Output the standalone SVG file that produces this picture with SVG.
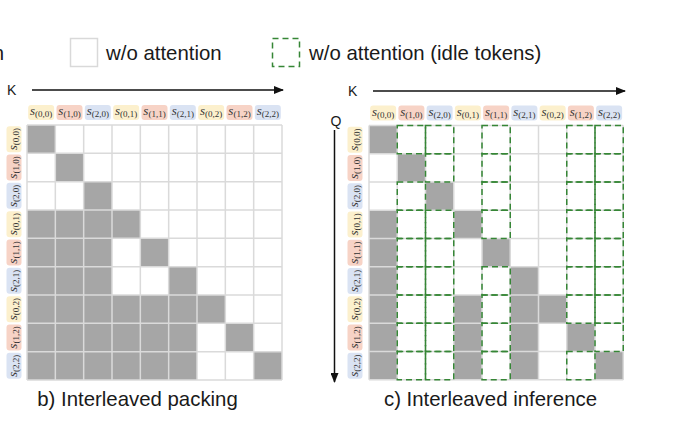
<svg xmlns="http://www.w3.org/2000/svg" xmlns:xlink="http://www.w3.org/1999/xlink" width="680" height="430" viewBox="0 0 680 430">
<style>
.t{font-family:"Liberation Sans",Arial,sans-serif;fill:#1a1a1a}
.leg{font-size:20.4px}
.ax{font-size:14px}
.lbl{font-family:"Liberation Serif","DejaVu Serif",serif;font-size:13px;fill:#333}
.sub{font-size:9px;font-style:normal}
.Y{fill:#fcf0cd}.R{fill:#f7d3c6}.B{fill:#dae3f3}
.cellbg{fill:#fff}
.gray{fill:#a6a6a6}
.grid{fill:none;stroke:#dadada;stroke-width:1.5}
.idle{fill:none;stroke:#368636;stroke-width:1.5;stroke-dasharray:6 4}
.arr{stroke:#111;stroke-width:1.5;fill:none}
</style>
<defs>
<marker id="ah" markerWidth="10" markerHeight="8" refX="9" refY="4" orient="auto" markerUnits="userSpaceOnUse">
<path d="M0,0 L10,4 L0,8 Z" fill="#111"/>
</marker>
<g id="L00"><rect x="-13" y="-7.5" width="26" height="15" rx="3" class="Y"/><text class="lbl" text-anchor="middle" y="2.5"><tspan font-style="italic">s</tspan><tspan class="sub" dy="2">(0,0)</tspan></text></g>
<g id="L10"><rect x="-13" y="-7.5" width="26" height="15" rx="3" class="R"/><text class="lbl" text-anchor="middle" y="2.5"><tspan font-style="italic">s</tspan><tspan class="sub" dy="2">(1,0)</tspan></text></g>
<g id="L20"><rect x="-13" y="-7.5" width="26" height="15" rx="3" class="B"/><text class="lbl" text-anchor="middle" y="2.5"><tspan font-style="italic">s</tspan><tspan class="sub" dy="2">(2,0)</tspan></text></g>
<g id="L01"><rect x="-13" y="-7.5" width="26" height="15" rx="3" class="Y"/><text class="lbl" text-anchor="middle" y="2.5"><tspan font-style="italic">s</tspan><tspan class="sub" dy="2">(0,1)</tspan></text></g>
<g id="L11"><rect x="-13" y="-7.5" width="26" height="15" rx="3" class="R"/><text class="lbl" text-anchor="middle" y="2.5"><tspan font-style="italic">s</tspan><tspan class="sub" dy="2">(1,1)</tspan></text></g>
<g id="L21"><rect x="-13" y="-7.5" width="26" height="15" rx="3" class="B"/><text class="lbl" text-anchor="middle" y="2.5"><tspan font-style="italic">s</tspan><tspan class="sub" dy="2">(2,1)</tspan></text></g>
<g id="L02"><rect x="-13" y="-7.5" width="26" height="15" rx="3" class="Y"/><text class="lbl" text-anchor="middle" y="2.5"><tspan font-style="italic">s</tspan><tspan class="sub" dy="2">(0,2)</tspan></text></g>
<g id="L12"><rect x="-13" y="-7.5" width="26" height="15" rx="3" class="R"/><text class="lbl" text-anchor="middle" y="2.5"><tspan font-style="italic">s</tspan><tspan class="sub" dy="2">(1,2)</tspan></text></g>
<g id="L22"><rect x="-13" y="-7.5" width="26" height="15" rx="3" class="B"/><text class="lbl" text-anchor="middle" y="2.5"><tspan font-style="italic">s</tspan><tspan class="sub" dy="2">(2,2)</tspan></text></g>
<rect id="d" width="28.25" height="28.25" class="idle"/>
</defs>
<rect width="680" height="430" fill="#fff"/>

<g id="legend">
<text class="t leg" x="4" y="60" text-anchor="end">n</text>
<rect x="70.5" y="38.5" width="27" height="28" fill="#fff" stroke="#d9d9d9" stroke-width="1.5"/>
<text class="t leg" x="106" y="60">w/o attention</text>
<rect x="272.5" y="38.5" width="27" height="28" class="idle"/>
<text class="t leg" x="309" y="60">w/o attention (idle tokens)</text>
</g>

<g id="connectors">
<path class="arr" d="M32 90 H283" marker-end="url(#ah)"/>
<path class="arr" d="M373 91 H625" marker-end="url(#ah)"/>
<path class="arr" d="M334.5 130 V382" marker-end="url(#ah)"/>
</g>

<g id="axis-labels">
<text class="t ax" x="7" y="95">K</text>
<text class="t ax" x="348" y="96">K</text>
<text class="t ax" x="330.5" y="125.5">Q</text>
</g>

<g id="panel-b">
<g id="b-top-labels">
<use href="#L00" x="41.17" y="112.5"/>
<use href="#L10" x="69.5" y="112.5"/>
<use href="#L20" x="97.83" y="112.5"/>
<use href="#L01" x="126.17" y="112.5"/>
<use href="#L11" x="154.5" y="112.5"/>
<use href="#L21" x="182.83" y="112.5"/>
<use href="#L02" x="211.17" y="112.5"/>
<use href="#L12" x="239.5" y="112.5"/>
<use href="#L22" x="267.83" y="112.5"/>
</g>
<g id="b-side-labels">
<use href="#L00" transform="translate(14,139.17) rotate(-90)"/>
<use href="#L10" transform="translate(14,167.5) rotate(-90)"/>
<use href="#L20" transform="translate(14,195.83) rotate(-90)"/>
<use href="#L01" transform="translate(14,224.17) rotate(-90)"/>
<use href="#L11" transform="translate(14,252.5) rotate(-90)"/>
<use href="#L21" transform="translate(14,280.83) rotate(-90)"/>
<use href="#L02" transform="translate(14,309.17) rotate(-90)"/>
<use href="#L12" transform="translate(14,337.5) rotate(-90)"/>
<use href="#L22" transform="translate(14,365.83) rotate(-90)"/>
</g>
<g id="b-matrix">
<rect x="27" y="125" width="255" height="255" class="cellbg"/>
<rect class="gray" x="27" y="125" width="28.33" height="28.33"/>
<rect class="gray" x="55.33" y="153.33" width="28.33" height="28.33"/>
<rect class="gray" x="83.67" y="181.67" width="28.33" height="28.33"/>
<rect class="gray" x="27" y="210" width="113.33" height="28.33"/>
<rect class="gray" x="27" y="238.33" width="85" height="28.33"/>
<rect class="gray" x="140.33" y="238.33" width="28.33" height="28.33"/>
<rect class="gray" x="27" y="266.67" width="85" height="28.33"/>
<rect class="gray" x="168.67" y="266.67" width="28.33" height="28.33"/>
<rect class="gray" x="27" y="295" width="198.33" height="28.33"/>
<rect class="gray" x="27" y="323.33" width="170" height="28.33"/>
<rect class="gray" x="225.33" y="323.33" width="28.33" height="28.33"/>
<rect class="gray" x="27" y="351.67" width="170" height="28.33"/>
<rect class="gray" x="253.67" y="351.67" width="28.33" height="28.33"/>
<path class="grid" d="M27 125 V380 M55.33 125 V380 M83.67 125 V380 M112 125 V380 M140.33 125 V380 M168.67 125 V380 M197 125 V380 M225.33 125 V380 M253.67 125 V380 M282 125 V380 M27 125 H282 M27 153.33 H282 M27 181.67 H282 M27 210 H282 M27 238.33 H282 M27 266.67 H282 M27 295 H282 M27 323.33 H282 M27 351.67 H282 M27 380 H282"/>
</g>
<text class="t leg" x="137.5" y="406" text-anchor="middle">b) Interleaved packing</text>
</g>

<g id="panel-c">
<g id="c-top-labels">
<use href="#L00" x="383.13" y="113"/>
<use href="#L10" x="411.38" y="113"/>
<use href="#L20" x="439.63" y="113"/>
<use href="#L01" x="467.88" y="113"/>
<use href="#L11" x="496.13" y="113"/>
<use href="#L21" x="524.38" y="113"/>
<use href="#L02" x="552.63" y="113"/>
<use href="#L12" x="580.88" y="113"/>
<use href="#L22" x="609.13" y="113"/>
</g>
<g id="c-side-labels">
<use href="#L00" transform="translate(355,139.63) rotate(-90)"/>
<use href="#L10" transform="translate(355,167.88) rotate(-90)"/>
<use href="#L20" transform="translate(355,196.13) rotate(-90)"/>
<use href="#L01" transform="translate(355,224.38) rotate(-90)"/>
<use href="#L11" transform="translate(355,252.63) rotate(-90)"/>
<use href="#L21" transform="translate(355,280.88) rotate(-90)"/>
<use href="#L02" transform="translate(355,309.13) rotate(-90)"/>
<use href="#L12" transform="translate(355,337.38) rotate(-90)"/>
<use href="#L22" transform="translate(355,365.63) rotate(-90)"/>
</g>
<g id="c-matrix">
<rect x="369" y="125.5" width="254.25" height="254.25" class="cellbg"/>
<rect class="gray" x="369" y="125.5" width="28.25" height="28.25"/>
<rect class="gray" x="397.25" y="153.75" width="28.25" height="28.25"/>
<rect class="gray" x="425.5" y="182" width="28.25" height="28.25"/>
<rect class="gray" x="369" y="210.25" width="28.25" height="169.5"/>
<rect class="gray" x="453.75" y="210.25" width="28.25" height="28.25"/>
<rect class="gray" x="453.75" y="295" width="28.25" height="84.75"/>
<rect class="gray" x="482" y="238.5" width="28.25" height="28.25"/>
<rect class="gray" x="510.25" y="266.75" width="28.25" height="113"/>
<rect class="gray" x="538.5" y="295" width="28.25" height="28.25"/>
<rect class="gray" x="566.75" y="323.25" width="28.25" height="28.25"/>
<rect class="gray" x="595" y="351.5" width="28.25" height="28.25"/>
<path class="grid" d="M369 125.5 V379.75 M397.25 125.5 V379.75 M425.5 125.5 V379.75 M453.75 125.5 V379.75 M482 125.5 V379.75 M510.25 125.5 V379.75 M538.5 125.5 V379.75 M566.75 125.5 V379.75 M595 125.5 V379.75 M623.25 125.5 V379.75 M369 125.5 H623.25 M369 153.75 H623.25 M369 182 H623.25 M369 210.25 H623.25 M369 238.5 H623.25 M369 266.75 H623.25 M369 295 H623.25 M369 323.25 H623.25 M369 351.5 H623.25 M369 379.75 H623.25"/>
<g id="c-idle">
<use href="#d" x="397.25" y="125.5"/><use href="#d" x="397.25" y="182"/><use href="#d" x="397.25" y="210.25"/><use href="#d" x="397.25" y="238.5"/><use href="#d" x="397.25" y="266.75"/><use href="#d" x="397.25" y="295"/><use href="#d" x="397.25" y="323.25"/><use href="#d" x="397.25" y="351.5"/>
<use href="#d" x="425.5" y="125.5"/><use href="#d" x="425.5" y="153.75"/><use href="#d" x="425.5" y="210.25"/><use href="#d" x="425.5" y="238.5"/><use href="#d" x="425.5" y="266.75"/><use href="#d" x="425.5" y="295"/><use href="#d" x="425.5" y="323.25"/><use href="#d" x="425.5" y="351.5"/>
<use href="#d" x="482" y="125.5"/><use href="#d" x="482" y="153.75"/><use href="#d" x="482" y="182"/><use href="#d" x="482" y="210.25"/><use href="#d" x="482" y="266.75"/><use href="#d" x="482" y="295"/><use href="#d" x="482" y="323.25"/><use href="#d" x="482" y="351.5"/>
<use href="#d" x="566.75" y="125.5"/><use href="#d" x="566.75" y="153.75"/><use href="#d" x="566.75" y="182"/><use href="#d" x="566.75" y="210.25"/><use href="#d" x="566.75" y="238.5"/><use href="#d" x="566.75" y="266.75"/><use href="#d" x="566.75" y="295"/><use href="#d" x="566.75" y="351.5"/>
<use href="#d" x="595" y="125.5"/><use href="#d" x="595" y="153.75"/><use href="#d" x="595" y="182"/><use href="#d" x="595" y="210.25"/><use href="#d" x="595" y="238.5"/><use href="#d" x="595" y="266.75"/><use href="#d" x="595" y="295"/><use href="#d" x="595" y="323.25"/>
</g>
</g>
<text class="t leg" x="490.5" y="406" text-anchor="middle">c) Interleaved inference</text>
</g>
</svg>
